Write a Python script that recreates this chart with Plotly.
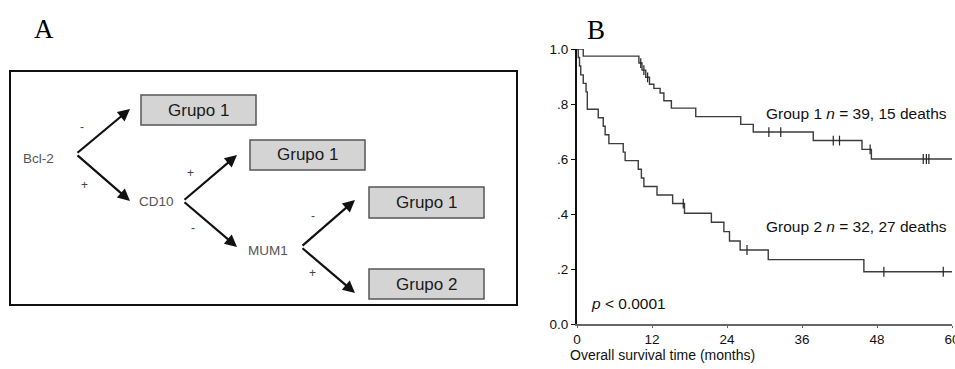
import plotly.graph_objects as go

W, H = 955, 369

# ---- Kaplan-Meier data (months, survival proportion after each event) ----
g1_times = [0, 1.0, 9.9, 10.4, 11.0, 11.6, 12.3, 13.3, 13.9, 15.1, 19.0, 26.2, 28.2, 37.8, 45.6, 47.1, 60]
g1_surv = [1.0, 0.974, 0.949, 0.923, 0.897, 0.872, 0.857, 0.840, 0.812, 0.785, 0.754, 0.726, 0.698, 0.667, 0.635, 0.600, 0.600]
g1_censored = [10.2, 10.7, 11.3, 30.7, 32.6, 41.0, 42.0, 46.9, 55.4, 55.9, 56.3]

g2_times = [0, 0.2, 0.4, 0.6, 1.0, 1.45, 1.65, 3.4, 4.2, 4.5, 5.1, 7.4, 7.7, 9.8, 10.3, 10.7, 12.8,
            15.3, 17.2, 21.5, 23.5, 24.4, 26.1, 30.6, 45.9, 60]
g2_surv = [1.0, 0.969, 0.938, 0.906, 0.875, 0.844, 0.781, 0.750, 0.719, 0.688, 0.656, 0.625, 0.594,
           0.563, 0.531, 0.500, 0.469, 0.438, 0.403, 0.370, 0.336, 0.302, 0.269, 0.234, 0.190, 0.190]
g2_censored = [17.0, 27.2, 49.1, 58.6]

x_ticks = [0, 12, 24, 36, 48, 60]
y_ticks = [0, 0.2, 0.4, 0.6, 0.8, 1.0]
y_ticktext = ["0.0", ".2", ".4", ".6", ".8", "1.0"]

# ---- decision tree (panel A) ----
tree_nodes = ["Bcl-2", "CD10", "MUM1"]
tree_groups = ["Grupo 1", "Grupo 1", "Grupo 1", "Grupo 2"]


def surv_at(times, surv, t):
    s = surv[0]
    for ti, si in zip(times, surv):
        if ti <= t:
            s = si
    return s


def px(x):
    return x / W


def py(y):
    return 1 - y / H


def label(x, y, text, font, xanchor="center"):
    return dict(x=px(x), y=py(y), xref="paper", yref="paper", xanchor=xanchor, yanchor="middle",
                text=text, showarrow=False, font=font)


fig = go.Figure()

curve_color = "#3c3c3c"
for times, surv, cens in [(g1_times, g1_surv, g1_censored), (g2_times, g2_surv, g2_censored)]:
    fig.add_trace(go.Scatter(
        x=times, y=surv, mode="lines", line=dict(color=curve_color, width=1.4, shape="hv"),
        cliponaxis=False, showlegend=False, hoverinfo="skip"))
    fig.add_trace(go.Scatter(
        x=cens, y=[surv_at(times, surv, t) for t in cens], mode="markers",
        marker=dict(symbol="line-ns", size=7, line=dict(color="#222", width=1.2)),
        cliponaxis=False, showlegend=False, hoverinfo="skip"))

tick_font = dict(family="Liberation Sans, Arial, sans-serif", size=13.5, color="#111")
fig.update_layout(
    width=W, height=H, margin=dict(l=0, r=0, t=0, b=0, autoexpand=False),
    paper_bgcolor="white", plot_bgcolor="white",
    xaxis=dict(domain=[577 / W, 952 / W], range=[0, 60], tickvals=x_ticks,
               showgrid=False, zeroline=False, showline=True, linecolor="#666", linewidth=1.5,
               ticks="outside", ticklen=2, tickcolor="#666", tickfont=tick_font,
               ticklabeloverflow="allow"),
    yaxis=dict(domain=[(H - 324) / H, (H - 49) / H], range=[0, 1], tickvals=y_ticks,
               ticktext=y_ticktext, showgrid=False, zeroline=False, showline=True,
               linecolor="#111", linewidth=2, ticks="outside", ticklen=4, tickcolor="#111",
               tickfont=tick_font),
)

ann = []
txt_font = dict(family="Liberation Sans, Arial, sans-serif", size=15.5, color="#111")
ann.append(dict(x=29.9, y=0.767, xref="x", yref="y", xanchor="left", yanchor="middle",
                text="Group 1 <i>n</i> = 39, 15 deaths", showarrow=False, font=txt_font))
ann.append(dict(x=29.9, y=0.353, xref="x", yref="y", xanchor="left", yanchor="middle",
                text="Group 2 <i>n</i> = 32, 27 deaths", showarrow=False, font=txt_font))
ann.append(dict(x=1.9, y=0.076, xref="x", yref="y", xanchor="left", yanchor="middle",
                text="<i>p</i> < 0.0001", showarrow=False, font=txt_font))
ann.append(label(568, 355, "Overall survival time (months)",
                 dict(family="Liberation Sans, Arial, sans-serif", size=14, color="#111"), xanchor="left"))

# panel letters
serif = dict(family="Liberation Serif, Times New Roman, serif", size=27, color="black")
ann.append(label(44, 29, "A", serif))
ann.append(label(596, 30, "B", serif))

shapes = []
# frame around the tree
shapes.append(dict(type="rect", xref="paper", yref="paper", x0=px(10), x1=px(517), y0=py(71), y1=py(305),
                   line=dict(color="#111", width=2), fillcolor="rgba(0,0,0,0)"))

# group boxes: (left, top, right, bottom)
boxes = [(141, 95, 256, 125), (250, 140, 365, 170), (369, 187, 484, 218), (369, 269, 484, 299)]
box_font = dict(family="Liberation Sans, Arial, sans-serif", size=17, color="#1a1a1a")
for (l, t, r, b), name in zip(boxes, tree_groups):
    shapes.append(dict(type="rect", xref="paper", yref="paper", x0=px(l), x1=px(r), y0=py(t), y1=py(b),
                       line=dict(color="#555", width=1.5), fillcolor="#d4d4d4"))
    ann.append(label((l + r) / 2, (t + b) / 2, name, box_font))

# node labels and branch vertices
node_pos = [(38, 158), (156, 201), (268, 250)]
vertices = [(76, 154), (183, 201), (301, 247)]
heads_up = [(130, 109), (237, 155), (355, 200)]
heads_dn = [(130, 201), (237, 247), (355, 293)]
node_font = dict(family="Liberation Sans, Arial, sans-serif", size=13.5, color="#555")
for name, (x, y) in zip(tree_nodes, node_pos):
    ann.append(label(x, y, name, node_font))

for (vx, vy), (ux, uy), (dx, dy) in zip(vertices, heads_up, heads_dn):
    for hx, hy in [(ux, uy), (dx, dy)]:
        ann.append(dict(x=px(hx), y=py(hy), xref="paper", yref="paper", text="", showarrow=True,
                        ax=vx - hx, ay=vy - hy, axref="pixel", ayref="pixel",
                        arrowhead=2, arrowsize=1.1, arrowwidth=2.2, arrowcolor="#111", standoff=0))

# branch signs
signs = [("-", 82, 127), ("+", 84, 185), ("+", 190, 173), ("-", 193, 228), ("-", 313, 216), ("+", 312, 273)]
sign_font = dict(family="Liberation Sans, Arial, sans-serif", size=12, color="#444")
for s, x, y in signs:
    ann.append(label(x, y, s, sign_font))

fig.update_layout(annotations=ann, shapes=shapes)
fig.write_html("out.html")
